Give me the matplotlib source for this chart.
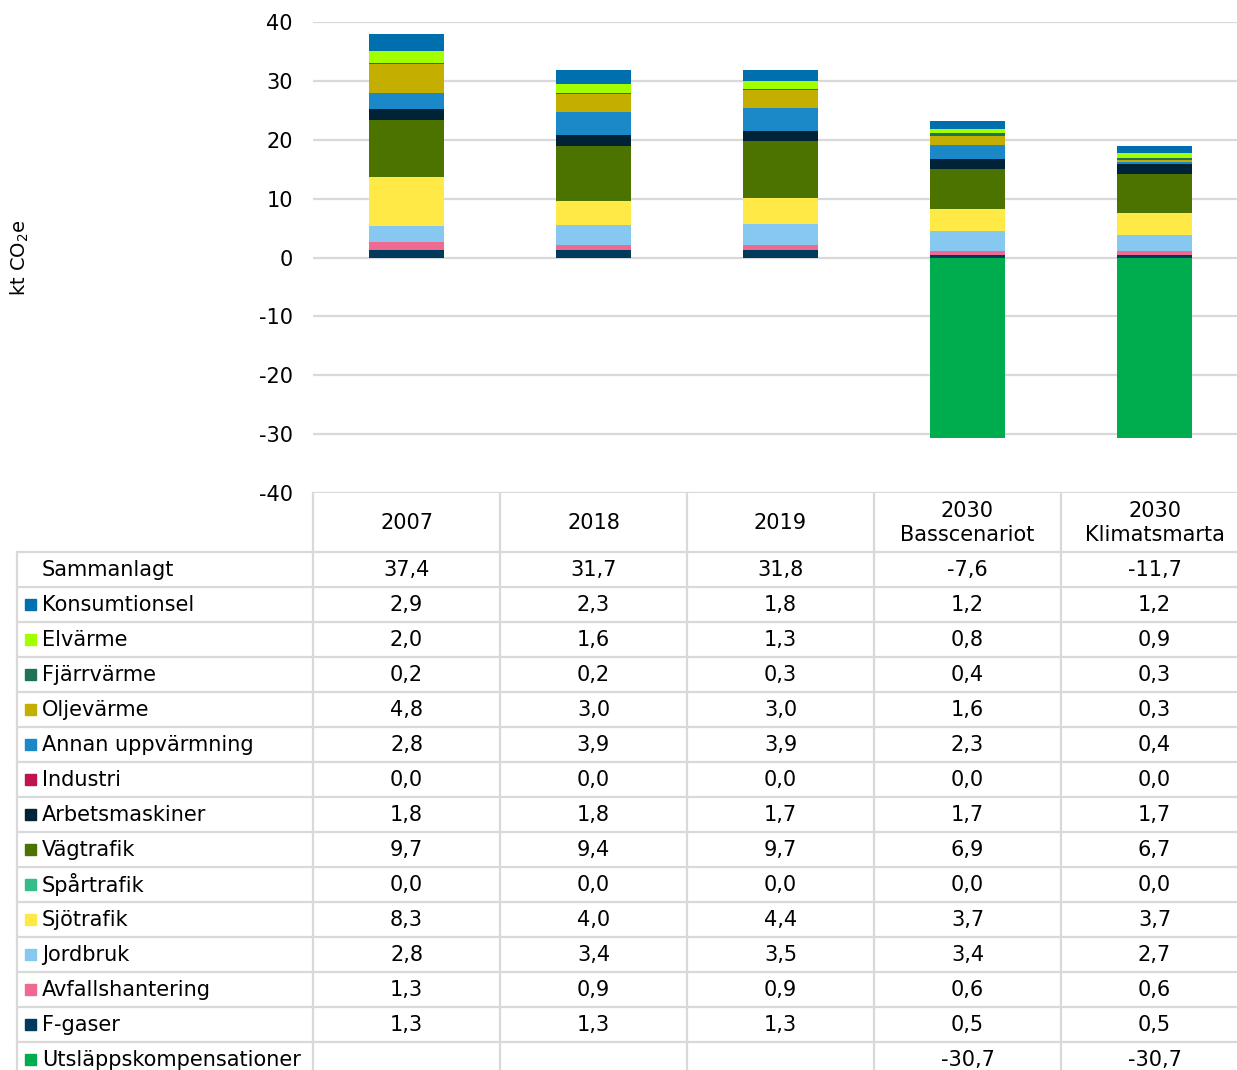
import matplotlib.pyplot as plt
import numpy as np

# categories / columns
columns = ['2007', '2018', '2019', '2030\nBasscenariot', '2030\nKlimatsmarta']

# series in table order (top to bottom)
series = ['Konsumtionsel', 'Elvärme', 'Fjärrvärme', 'Oljevärme', 'Annan uppvärmning',
          'Industri', 'Arbetsmaskiner', 'Vägtrafik', 'Spårtrafik', 'Sjötrafik',
          'Jordbruk', 'Avfallshantering', 'F-gaser', 'Utsläppskompensationer']
colors = ['#006FAD', '#A2FF00', '#1F7354', '#C4AE00', '#1B88C8',
          '#C0144C', '#002337', '#4C7300', '#33BD8B', '#FFE946',
          '#86C8F0', '#EE6A91', '#003A5C', '#00AD4E']

konsumtionsel = [2.9, 2.3, 1.8, 1.2, 1.2]
elvarme = [2.0, 1.6, 1.3, 0.8, 0.9]
fjarrvarme = [0.2, 0.2, 0.3, 0.4, 0.3]
oljevarme = [4.8, 3.0, 3.0, 1.6, 0.3]
annan = [2.8, 3.9, 3.9, 2.3, 0.4]
industri = [0.0, 0.0, 0.0, 0.0, 0.0]
arbetsmaskiner = [1.8, 1.8, 1.7, 1.7, 1.7]
vagtrafik = [9.7, 9.4, 9.7, 6.9, 6.7]
spartrafik = [0.0, 0.0, 0.0, 0.0, 0.0]
sjotrafik = [8.3, 4.0, 4.4, 3.7, 3.7]
jordbruk = [2.8, 3.4, 3.5, 3.4, 2.7]
avfall = [1.3, 0.9, 0.9, 0.6, 0.6]
fgaser = [1.3, 1.3, 1.3, 0.5, 0.5]
kompensation = [None, None, None, -30.7, -30.7]
sammanlagt = [37.4, 31.7, 31.8, -7.6, -11.7]

values = [konsumtionsel, elvarme, fjarrvarme, oljevarme, annan, industri,
          arbetsmaskiner, vagtrafik, spartrafik, sjotrafik, jordbruk, avfall,
          fgaser, kompensation]

def fmt(v):
    return '' if v is None else f'{v:.1f}'.replace('.', ',')

W, H = 1237, 1070
plt.rcParams['font.family'] = 'DejaVu Sans'
plt.rcParams['axes.unicode_minus'] = False
fig = plt.figure(figsize=(W / 100, H / 100), dpi=100)
fs = 15
grid_c = '#D9D9D9'

ax = fig.add_axes([313 / W, 1 - 493 / H, (1248 - 313) / W, (493 - 22) / H])
x = np.arange(len(columns))
pos = np.zeros(len(columns))
neg = np.zeros(len(columns))
# stack from bottom: reverse table order
for name, vals, c in reversed(list(zip(series, values, colors))):
    v = np.array([0.0 if a is None else a for a in vals])
    bottom = np.where(v >= 0, pos, neg)
    ax.bar(x, v, 0.4, bottom=bottom, color=c, zorder=3)
    pos = pos + np.where(v >= 0, v, 0)
    neg = neg + np.where(v < 0, v, 0)

ax.set_xlim(-0.5, 4.5)
ax.set_ylim(-40, 40)
ax.set_yticks(np.arange(-40, 41, 10))
ax.set_xticks([])
ax.yaxis.grid(True, color=grid_c, lw=1.6)
ax.set_axisbelow(True)
for s in ax.spines.values():
    s.set_visible(False)
ax.tick_params(axis='y', length=0, pad=14.5, labelsize=fs)
fig.text(20 / W, 1 - 258 / H, 'kt CO$_2$e', rotation=90, ha='center', va='center', fontsize=14)

# data table drawn in pixel coordinates
tab = fig.add_axes([0, 0, 1, 1], zorder=-1)
tab.set_xlim(0, W)
tab.set_ylim(H, 0)
tab.axis('off')
col_edges = [313 + 187 * i for i in range(6)]
row_h = 35
top = 552
for xe in col_edges:
    tab.plot([xe, xe], [493, H + 5], color=grid_c, lw=1.6)
tab.plot([17, 17], [top, H + 5], color=grid_c, lw=1.6)
for k in range(len(series) + 1):
    y = top + row_h * k
    tab.plot([17, 1250], [y, y], color=grid_c, lw=1.6)

centers = [e + 93.5 for e in col_edges[:5]]
for cx, lab in zip(centers, columns):
    tab.text(cx, 523, lab, ha='center', va='center', fontsize=fs)

rows = [('Sammanlagt', None, sammanlagt)] + list(zip(series, colors, values))
for i, (name, c, vals) in enumerate(rows):
    yc = top + row_h * i + row_h / 2 + 0.5
    if c is not None:
        tab.add_patch(plt.Rectangle((25, yc - 6.5), 11, 11, color=c))
    tab.text(42, yc, name, ha='left', va='center', fontsize=fs)
    for cx, v in zip(centers, vals):
        tab.text(cx, yc, fmt(v), ha='center', va='center', fontsize=fs)

fig.savefig('out.png', dpi=100)
